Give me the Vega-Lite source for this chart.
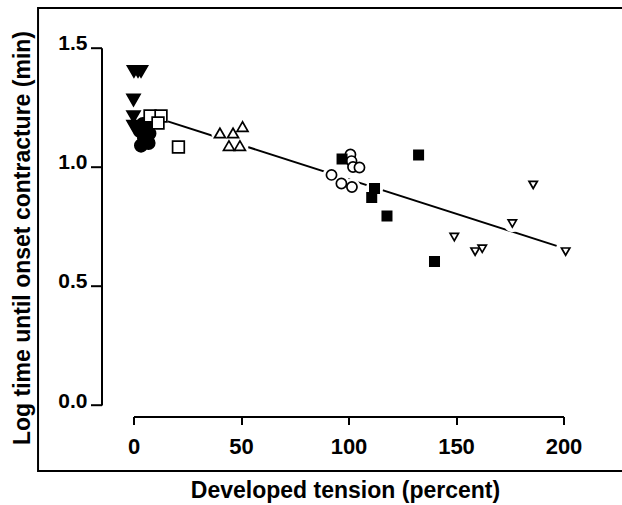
{
  "$schema": "https://vega.github.io/schema/vega-lite/v6.json",
  "width": 430,
  "height": 357.3,
  "autosize": {"type": "none"},
  "padding": {"left": 133.5, "top": 47.7, "right": 58.5, "bottom": 100},
  "background": "white",
  "config": {
    "view": {"stroke": null},
    "axis": {
      "grid": false,
      "domainColor": "black",
      "domainWidth": 2,
      "tickColor": "black",
      "tickWidth": 2,
      "labelColor": "black",
      "titleColor": "black",
      "labelFont": "Liberation Sans",
      "titleFont": "Liberation Sans",
      "labelFontWeight": "bold"
    }
  },
  "datasets": {
    "points": [
      {"group": "g1", "tension": 0.2, "logtime": 1.40},
      {"group": "g1", "tension": 2.1, "logtime": 1.40},
      {"group": "g1", "tension": 3.5, "logtime": 1.40},
      {"group": "g1", "tension": 0.0, "logtime": 1.28},
      {"group": "g1", "tension": 0.0, "logtime": 1.21},
      {"group": "g1", "tension": 0.0, "logtime": 1.17},
      {"group": "g1", "tension": 1.6, "logtime": 1.16},
      {"group": "g2", "tension": 4.4, "logtime": 1.180},
      {"group": "g2", "tension": 6.3, "logtime": 1.167},
      {"group": "g2", "tension": 3.0, "logtime": 1.150},
      {"group": "g2", "tension": 7.4, "logtime": 1.140},
      {"group": "g2", "tension": 4.9, "logtime": 1.121},
      {"group": "g2", "tension": 3.5, "logtime": 1.089},
      {"group": "g2", "tension": 7.0, "logtime": 1.100},
      {"group": "g3", "tension": 7.7, "logtime": 1.213},
      {"group": "g3", "tension": 12.8, "logtime": 1.213},
      {"group": "g3", "tension": 11.4, "logtime": 1.184},
      {"group": "g3", "tension": 20.9, "logtime": 1.083},
      {"group": "g4", "tension": 40.2, "logtime": 1.142},
      {"group": "g4", "tension": 46.3, "logtime": 1.142},
      {"group": "g4", "tension": 50.7, "logtime": 1.169},
      {"group": "g4", "tension": 44.4, "logtime": 1.089},
      {"group": "g4", "tension": 49.5, "logtime": 1.089},
      {"group": "g5", "tension": 100.9, "logtime": 1.052},
      {"group": "g5", "tension": 101.4, "logtime": 1.024},
      {"group": "g5", "tension": 102.1, "logtime": 0.999},
      {"group": "g5", "tension": 105.1, "logtime": 0.997},
      {"group": "g5", "tension": 92.1, "logtime": 0.966},
      {"group": "g5", "tension": 96.7, "logtime": 0.930},
      {"group": "g5", "tension": 101.6, "logtime": 0.915},
      {"group": "g6", "tension": 97.0, "logtime": 1.033},
      {"group": "g6", "tension": 112.1, "logtime": 0.909},
      {"group": "g6", "tension": 110.8, "logtime": 0.871},
      {"group": "g6", "tension": 117.9, "logtime": 0.793},
      {"group": "g6", "tension": 132.6, "logtime": 1.050},
      {"group": "g6", "tension": 140.0, "logtime": 0.602},
      {"group": "g7", "tension": 185.9, "logtime": 0.924},
      {"group": "g7", "tension": 176.2, "logtime": 0.762},
      {"group": "g7", "tension": 149.2, "logtime": 0.705},
      {"group": "g7", "tension": 158.9, "logtime": 0.644},
      {"group": "g7", "tension": 162.2, "logtime": 0.656},
      {"group": "g7", "tension": 201.0, "logtime": 0.644}
    ],
    "fit": [
      {"tension": 12.3, "logtime": 1.201},
      {"tension": 196.8, "logtime": 0.668}
    ]
  },
  "layer": [
    {
      "data": {"name": "points"},
      "mark": {"type": "point", "filled": true, "stroke": "black", "strokeWidth": 1.6, "opacity": 0},
      "encoding": {
        "x": {
          "field": "tension",
          "type": "quantitative",
          "scale": {"domain": [0, 200], "nice": false, "zero": false},
          "axis": {
            "orient": "bottom",
            "offset": 11.5,
            "values": [0, 50, 100, 150, 200],
            "tickSize": 8,
            "labelPadding": 12,
            "labelFontSize": 22,
            "labelFlush": false,
            "labelOverlap": false,
            "title": "Developed tension (percent)",
            "titleFontSize": 23,
            "titleFontWeight": "bold",
            "titleX": 211.5,
            "titleY": 73.5,
            "titleAlign": "center",
            "titleBaseline": "middle"
          }
        },
        "y": {
          "field": "logtime",
          "type": "quantitative",
          "scale": {"domain": [0, 1.5], "nice": false, "zero": false},
          "axis": {
            "orient": "left",
            "offset": 32,
            "values": [0, 0.5, 1, 1.5],
            "format": ".1f",
            "tickSize": 11,
            "labelPadding": 3.5,
            "labelFontSize": 21,
            "labelBaseline": "alphabetic",
            "labelOffset": 2,
            "labelOverlap": false,
            "title": "Log time until onset contracture (min)",
            "titleFontSize": 23,
            "titleFontWeight": "bold",
            "titleAngle": -90,
            "titleX": -79.5,
            "titleY": 189.8,
            "titleAlign": "center",
            "titleBaseline": "middle"
          }
        }
      }
    },
    {
      "data": {"values": [{}]},
      "mark": {"type": "rect", "fill": null, "fillOpacity": 0, "stroke": "black", "strokeWidth": 2, "clip": false},
      "encoding": {
        "x": {"datum": -44.4, "type": "quantitative"},
        "x2": {"datum": 231},
        "y": {"datum": 1.667, "type": "quantitative"},
        "y2": {"datum": -0.277}
      }
    },
    {
      "data": {"name": "fit"},
      "mark": {"type": "line", "color": "black", "strokeWidth": 2},
      "encoding": {
        "x": {"field": "tension", "type": "quantitative"},
        "y": {"field": "logtime", "type": "quantitative"}
      }
    },
    {
      "data": {"name": "points"},
      "mark": {"type": "point", "shape": "circle", "filled": true, "color": "white", "opacity": 1, "size": 300},
      "encoding": {
        "x": {"field": "tension", "type": "quantitative"},
        "y": {"field": "logtime", "type": "quantitative"}
      }
    },
    {
      "data": {"name": "points"},
      "mark": {"type": "point", "filled": true, "stroke": "black", "strokeWidth": 1.7, "opacity": 1},
      "encoding": {
        "x": {"field": "tension", "type": "quantitative"},
        "y": {"field": "logtime", "type": "quantitative"},
        "shape": {
          "field": "group",
          "type": "nominal",
          "scale": {
            "domain": ["g1", "g2", "g3", "g4", "g5", "g6", "g7"],
            "range": ["triangle-down", "circle", "square", "triangle-up", "circle", "square", "triangle-down"]
          },
          "legend": null
        },
        "fill": {
          "field": "group",
          "type": "nominal",
          "scale": {
            "domain": ["g1", "g2", "g3", "g4", "g5", "g6", "g7"],
            "range": ["black", "black", "white", "white", "white", "black", "white"]
          },
          "legend": null
        },
        "size": {
          "field": "group",
          "type": "nominal",
          "scale": {
            "domain": ["g1", "g2", "g3", "g4", "g5", "g6", "g7"],
            "range": [170, 70, 55, 170, 60, 70, 180]
          },
          "legend": null
        }
      }
    }
  ]
}
